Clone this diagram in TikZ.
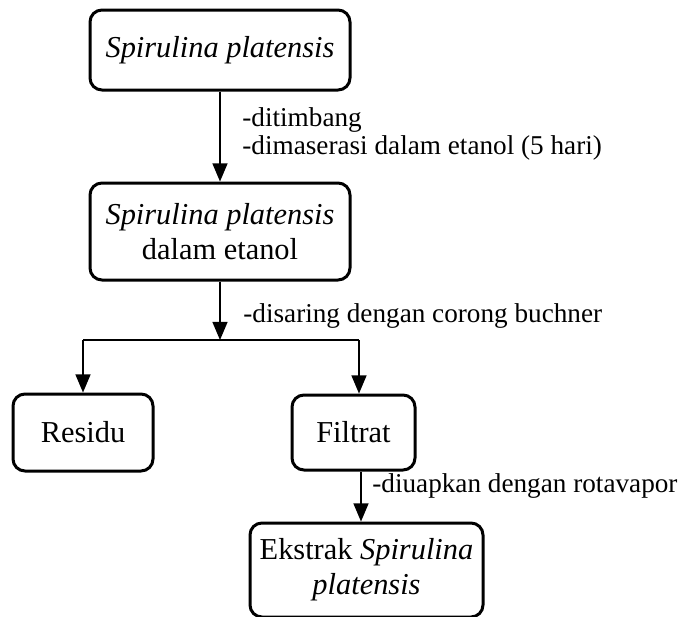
\documentclass[tikz,border=0pt]{standalone}
\usepackage{fontspec}
\setmainfont{Liberation Serif}
\usetikzlibrary{arrows}
\tikzset{
	kotak/.style={draw,rounded corners=6pt,line width=1.5pt,align=center,inner sep=0pt,
		font=\fontsize{15.2}{17.5}\selectfont},
	ket/.style={anchor=base west,inner sep=0pt,font=\fontsize{13.6}{14.3}\selectfont},
	panah/.style={->,line width=1.1pt},
}
\begin{document}
\begin{tikzpicture}[x=0.5pt,y=-0.5pt,>=triangle 45]
			\useasboundingbox(0,0)rectangle(682,617);
			\node[kotak,minimum width=130pt,minimum height=40pt](spirulina)at(220,50){\textit{Spirulina platensis}};
			\node[kotak,minimum width=130pt,minimum height=48.5pt](etanol)at(220,231.5){\textit{Spirulina platensis}\\dalam etanol};
			\node[kotak,minimum width=70pt,minimum height=38.5pt](residu)at(83,432.5){Residu};
			\node[kotak,minimum width=61.5pt,minimum height=37.5pt](filtrat)at(353.5,432.5){Filtrat};
			\node[kotak,minimum width=116.5pt,minimum height=47pt](ekstrak)at(366.5,570){Ekstrak \textit{Spirulina}\\\textit{platensis}};
			\coordinate(cabang)at(220,340);
			\coordinate(kiri)at(83,340);
			\coordinate(kanan)at(359,340);
			\draw[panah](spirulina)--(etanol);
			\draw[panah](etanol)--(cabang);
			\draw[line width=1.1pt](kiri)--(kanan);
			\draw[panah](kiri)--(residu);
			\draw[panah](kanan)--(kanan|-filtrat.north);
			\draw[panah]([xshift=3.75pt]filtrat.south)--([xshift=-2.75pt]ekstrak.north);
			\node[ket](timbang)at(242,126){-ditimbang};
			\node[ket](maserasi)at(242,154){-dimaserasi dalam etanol (5 hari)};
			\node[ket](saring)at(243,322){-disaring dengan corong buchner};
			\node[ket](uapkan)at(372,492){-diuapkan dengan rotavapor};
		\end{tikzpicture}
\end{document}
